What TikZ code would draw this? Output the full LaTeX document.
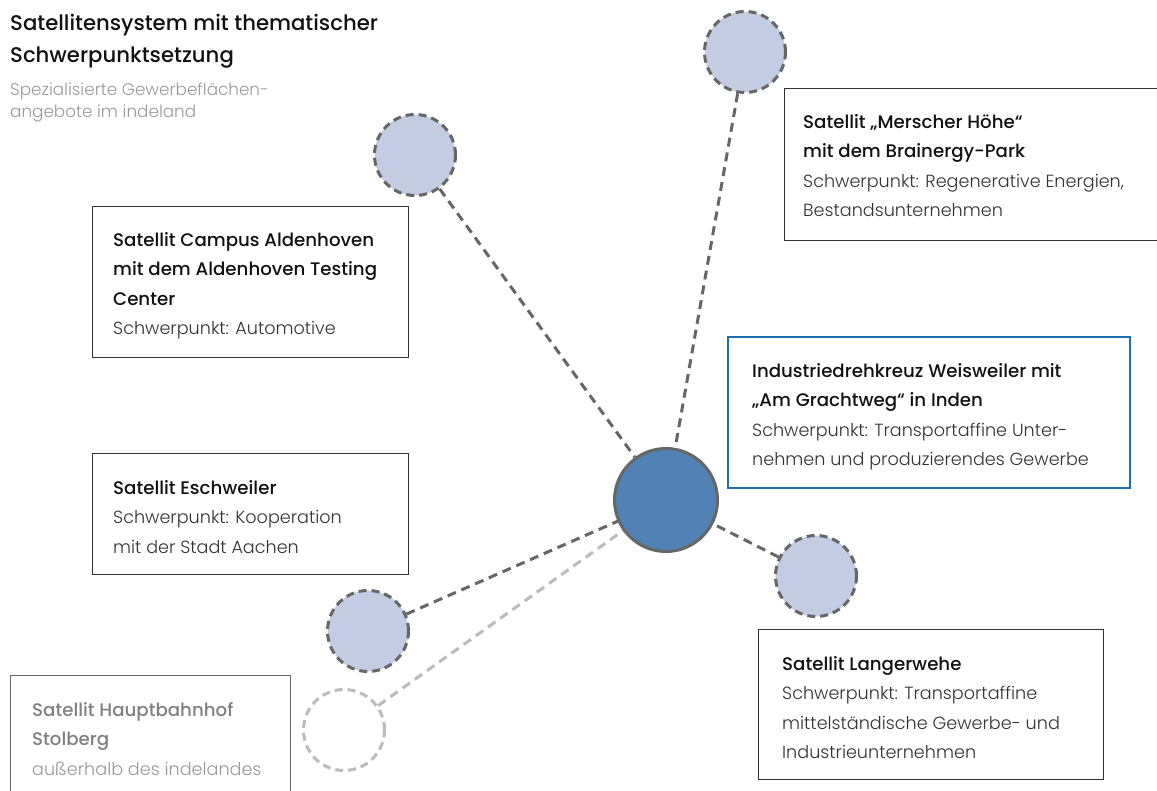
\documentclass[tikz,border=0pt]{standalone}
\usepackage{fontspec}
\setmainfont{Poppins}
\newfontfamily\ltfont{Poppins Light}
\newfontfamily\mdfont{Poppins Medium}
\usetikzlibrary{positioning, calc, backgrounds}

\definecolor{satfill}{HTML}{C3CCE3}
\definecolor{hubfill}{HTML}{5282B5}
\definecolor{dashgray}{HTML}{666666}
\definecolor{palegray}{HTML}{BBBBBB}
\definecolor{boxblue}{HTML}{1F6FB0}
\definecolor{bodygray}{HTML}{333333}
\definecolor{headblack}{HTML}{111111}

% heading line inside a box
\newcommand{\hdline}[1]{{\mdfont\fontsize{18.2}{29.5}\selectfont\color{headblack}#1}}

\begin{document}
\begin{tikzpicture}[x=1pt, y=-1pt,
    sat/.style={circle, inner sep=0pt, minimum size=81pt, fill=satfill, draw=dashgray, line width=3pt, dash pattern=on 8pt off 5pt},
    ghost/.style={sat, fill=white, draw=palegray},
    hub/.style={circle, inner sep=0pt, minimum size=103pt, fill=hubfill, draw=dashgray, line width=3pt},
    conn/.style={draw=dashgray, line width=3pt, dash pattern=on 9pt off 6pt},
    ghostconn/.style={conn, draw=palegray},
    boxframe/.style={draw=black!80, line width=0.8pt, anchor=north west, inner sep=0pt},
    txt/.style={inner sep=0pt, align=left, text=bodygray, font=\ltfont\fontsize{17.6}{29.5}\selectfont},
    hd/.style={inner sep=0pt, align=left, anchor=north west},
]
    \useasboundingbox (0,0) rectangle (1157,791);

    % Title
    \node[hd, text=headblack, font=\mdfont\fontsize{21.2}{32}\selectfont] (title) at (10,14)
        {Satellitensystem mit thematischer\\Schwerpunktsetzung};
    \node[hd, text=black!40, font=\ltfont\fontsize{16.8}{22}\selectfont] (sub) at (10,83)
        {Spezialisierte Gewerbeflächen-\\angebote im indeland};

    % Circles
    \node[hub] (hub) at (666,500) {};
    \node[sat] (S1) at (415,155) {};
    \node[sat] (S2) at (745,52) {};
    \node[sat] (S3) at (816,576) {};
    \node[sat] (S4) at (368,631) {};
    \node[ghost] (S5) at (344,730) {};

    % Connectors
    \begin{scope}[on background layer]
        \draw[conn] (S1) -- (hub);
        \draw[conn] (S2) -- (hub);
        \draw[conn] (S3) -- (hub);
        \draw[conn] (S4) -- (hub);
        \draw[ghostconn] (S5) -- (hub);
    \end{scope}

    % Boxes
    \node[boxframe, minimum width=316pt, minimum height=151pt] (ald) at (92,206) {};
    \node[boxframe, minimum width=380pt, minimum height=152pt] (mer) at (784,88) {};
    \node[boxframe, draw=boxblue, line width=2pt, minimum width=402pt, minimum height=151pt] (ind) at (727,336) {};
    \node[boxframe, minimum width=316pt, minimum height=121pt] (esc) at (92,453) {};
    \node[boxframe, minimum width=345pt, minimum height=150pt] (lan) at (758,629) {};
    \node[boxframe, draw=black!60, minimum width=280pt, minimum height=130pt] (sto) at (10,675) {};

    % Texts
    \node[txt, below right=26pt and 21pt of ald.north west] (aldtxt)
        {\hdline{Satellit Campus Aldenhoven}\\
         \hdline{mit dem Aldenhoven Testing}\\
         \hdline{Center}\\
         Schwerpunkt: Automotive};
    \node[txt, below right=26pt and 19pt of mer.north west] (mertxt)
        {\hdline{Satellit „Merscher Höhe“}\\
         \hdline{mit dem Brainergy-Park}\\
         Schwerpunkt: Regenerative Energien,\\
         Bestandsunternehmen};
    \node[txt, below right=27pt and 25pt of ind.north west] (indtxt)
        {\hdline{Industriedrehkreuz Weisweiler mit}\\
         \hdline{„Am Grachtweg“ in Inden}\\
         Schwerpunkt: Transportaffine Unter-\\
         nehmen und produzierendes Gewerbe};
    \node[txt, below right=27pt and 21pt of esc.north west] (esctxt)
        {\hdline{Satellit Eschweiler}\\
         Schwerpunkt: Kooperation\\
         mit der Stadt Aachen};
    \node[txt, below right=27pt and 24pt of lan.north west] (lantxt)
        {\hdline{Satellit Langerwehe}\\
         Schwerpunkt: Transportaffine\\
         mittelständische Gewerbe- und\\
         Industrieunternehmen};
    \node[txt, text=black!40, below right=27pt and 22pt of sto.north west] (stotxt)
        {{\mdfont\fontsize{18.2}{29.5}\selectfont\color{black!50}Satellit Hauptbahnhof}\\
         {\mdfont\fontsize{18.2}{29.5}\selectfont\color{black!50}Stolberg}\\
         außerhalb des indelandes};
\end{tikzpicture}
\end{document}
